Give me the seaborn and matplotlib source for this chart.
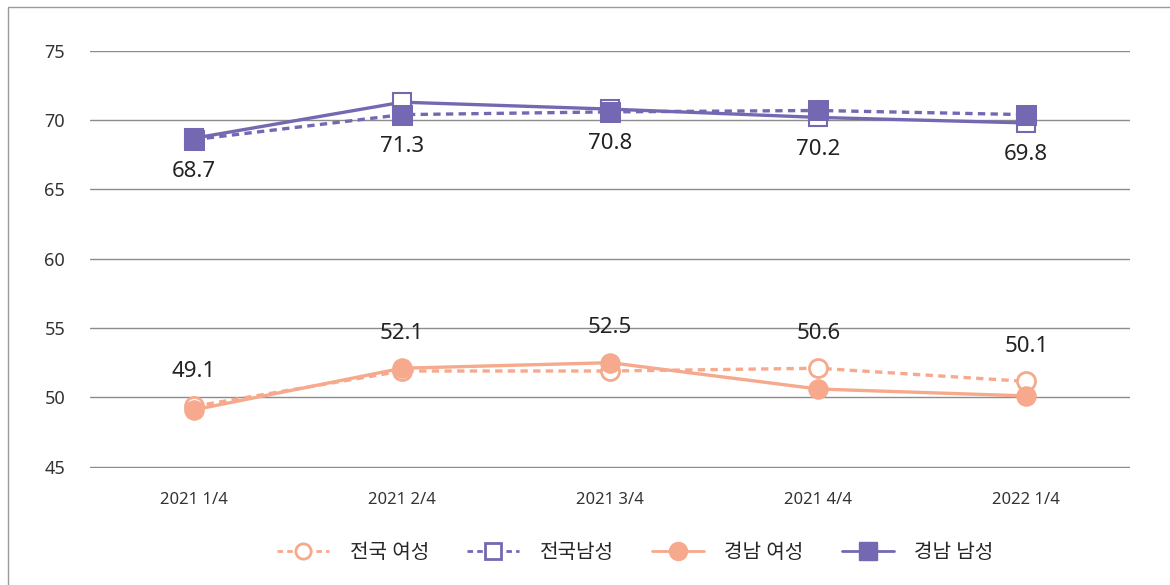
import matplotlib
matplotlib.use('Agg')
import matplotlib.pyplot as plt
from matplotlib.lines import Line2D
from matplotlib.patches import Rectangle
import seaborn as sns
import pandas as pd

# data
quarters = ['2021 1/4', '2021 2/4', '2021 3/4', '2021 4/4', '2022 1/4']
nat_female = [49.35, 51.9, 51.9, 52.1, 51.15]   # 전국 여성 (dashed)
nat_male = [68.6, 70.4, 70.6, 70.7, 70.4]        # 전국남성 (dashed)
gn_female = [49.1, 52.1, 52.5, 50.6, 50.1]       # 경남 여성 (solid)
gn_male = [68.7, 71.3, 70.8, 70.2, 69.8]         # 경남 남성 (solid)

salmon = '#F6A98C'
purple = '#7468B2'

sns.set_theme(style='white')
plt.rcParams['font.family'] = ['Noto Sans', 'Noto Sans CJK KR', 'DejaVu Sans']

fig, ax = plt.subplots(figsize=(11.7, 5.85), dpi=100)
fig.subplots_adjust(left=0.077, right=0.966, top=0.913, bottom=0.2)

df = pd.DataFrame({'x': range(len(quarters)), 'nat_f': nat_female, 'nat_m': nat_male,
                   'gn_f': gn_female, 'gn_m': gn_male})

# male lines (markers as drawn in the reference)
sns.lineplot(data=df, x='x', y='gn_m', ax=ax, color=purple, lw=2.4,
             marker='s', markersize=13, markerfacecolor='white', markeredgecolor=purple,
             markeredgewidth=1.5, zorder=3)
sns.lineplot(data=df, x='x', y='nat_m', ax=ax, color=purple, lw=2.4, linestyle=(0, (2.2, 1.6)),
             marker='s', markersize=14, markerfacecolor=purple, markeredgecolor=purple, zorder=4)
# female lines
sns.lineplot(data=df, x='x', y='nat_f', ax=ax, color=salmon, lw=2.4, linestyle=(0, (2.2, 1.6)),
             marker='o', markersize=13, markerfacecolor='white', markeredgecolor=salmon,
             markeredgewidth=2, zorder=3)
sns.lineplot(data=df, x='x', y='gn_f', ax=ax, color=salmon, lw=2.4,
             marker='o', markersize=14, markerfacecolor=salmon, markeredgecolor=salmon, zorder=4)

# value labels
for i in range(len(quarters)):
    ax.annotate(f'{gn_male[i]:.1f}', (i, min(gn_male[i], nat_male[i])), xytext=(0, -23),
                textcoords='offset points', ha='center', va='center', fontsize=16, color='#222222')
    ax.annotate(f'{gn_female[i]:.1f}', (i, max(gn_female[i], nat_female[i])), xytext=(0, 25),
                textcoords='offset points', ha='center', va='center', fontsize=16, color='#222222')

ax.set_xlim(-0.5, len(quarters) - 0.5)
ax.set_ylim(44.9, 75)
ax.set_yticks([45, 50, 55, 60, 65, 70, 75])
ax.set_xticks(range(len(quarters)))
ax.set_xticklabels(quarters)
ax.tick_params(axis='y', labelsize=13, colors='#333333', length=0, pad=18)
ax.tick_params(axis='x', labelsize=12, colors='#333333', length=0, pad=17)
ax.set_xlabel('')
ax.set_ylabel('')
ax.grid(axis='y', color='#8c8c8c', lw=1)
sns.despine(ax=ax, left=True, bottom=True)

handles = [
    Line2D([], [], color=salmon, lw=2, ls=(0, (2, 1.5)), marker='o', markersize=11,
           markerfacecolor='white', markeredgecolor=salmon, markeredgewidth=2),
    Line2D([], [], color=purple, lw=2, ls=(0, (2, 1.5)), marker='s', markersize=11,
           markerfacecolor='white', markeredgecolor=purple, markeredgewidth=2),
    Line2D([], [], color=salmon, lw=2, marker='o', markersize=13),
    Line2D([], [], color=purple, lw=2, marker='s', markersize=13),
]
labels = ['전국 여성', '전국남성', '경남 여성', '경남 남성']
fig.legend(handles, labels, loc='center', bbox_to_anchor=(0.543, 0.055), ncol=4, frameon=False,
           handlelength=2.6, columnspacing=1.9, handletextpad=1.0,
           prop={'size': 14.5, 'weight': 'medium'})

# thin frame around the chart
fig.patches.append(Rectangle((8 / 1170, -0.05), 1.1, (577 + 30) / 585, transform=fig.transFigure,
                             fill=False, edgecolor='#9a9a9a', lw=1))

fig.savefig('out.png', dpi=100)
